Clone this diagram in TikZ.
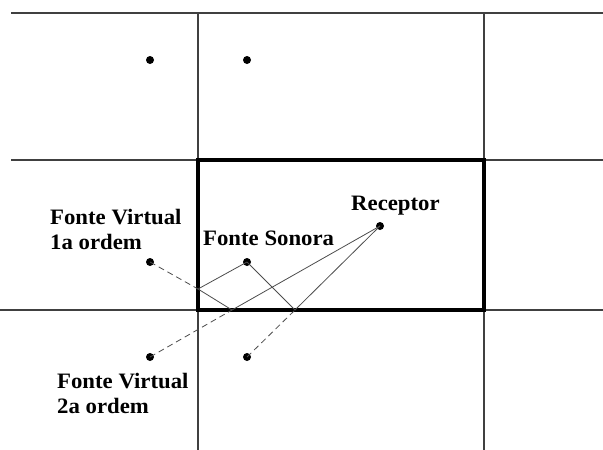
\documentclass[tikz,border=0pt]{standalone}
\usepackage{fontspec}
\setmainfont[FakeStretch=1.035]{Liberation Serif}
\begin{document}
\begin{tikzpicture}[x=1pt,y=-1pt,
  grid/.style={draw=black!75,line width=1.1pt},
  room/.style={draw=black,line width=3.2pt},
  ray/.style={draw=black!70,line width=0.8pt},
  virt/.style={draw=black!70,line width=0.8pt,dash pattern=on 6pt off 4pt},
  pt/.style={circle,fill=black,inner sep=0pt,minimum size=8pt},
  lbl/.style={font=\fontsize{22}{25}\selectfont\bfseries,inner sep=0pt,align=left}]
\useasboundingbox (0,0) rectangle (603,450);
% grid corners
\coordinate (gTL) at (11,13);
\coordinate (gTR) at (603,13);
\coordinate (gML) at (11,160);
\coordinate (gMR) at (603,160);
\coordinate (gBL) at (0,310);
\coordinate (gBR) at (603,310);
\coordinate (vAt) at (198,13);
\coordinate (vAb) at (198,450);
\coordinate (vBt) at (484,13);
\coordinate (vBb) at (484,450);
\draw[grid] (gTL) -- (gTR);
\draw[grid] (gML) -- (gMR);
\draw[grid] (gBL) -- (gBR);
\draw[grid] (vAt) -- (vAb);
\draw[grid] (vBt) -- (vBb);
% room
\coordinate (r1) at (198,160);
\coordinate (r2) at (484,310);
\draw[room] (r1) rectangle (r2);
% points
\node[pt] (t1) at (150,60) {};
\node[pt] (t2) at (247,60) {};
\node[pt] (v1) at (150,262) {};
\node[pt] (src) at (247,262) {};
\node[pt] (rec) at (380,226) {};
\node[pt] (v2) at (150,357) {};
\node[pt] (v3) at (247,357) {};
% reflection points
\coordinate (w1) at (198,289);
\coordinate (w2) at (232,310);
\coordinate (w3) at (295,310);
% rays
\draw[ray] (src.center) -- (w1) -- (w2) -- (rec.center);
\draw[ray] (src.center) -- (w3) -- (rec.center);
\draw[virt] (v1.center) -- (w1);
\draw[virt] (v2.center) -- (w2);
\draw[virt] (v3.center) -- (w3);
% labels
\node[lbl,anchor=north west] (lv1) at (50,209) {Fonte Virtual\\1a ordem};
\node[lbl,anchor=north west] (lv2) at (57,373) {Fonte Virtual\\2a ordem};
\node[lbl,anchor=base west] (lsrc) at (203,245) {Fonte Sonora};
\node[lbl,anchor=base west] (lrec) at (351,210) {Receptor};
\end{tikzpicture}
\end{document}
